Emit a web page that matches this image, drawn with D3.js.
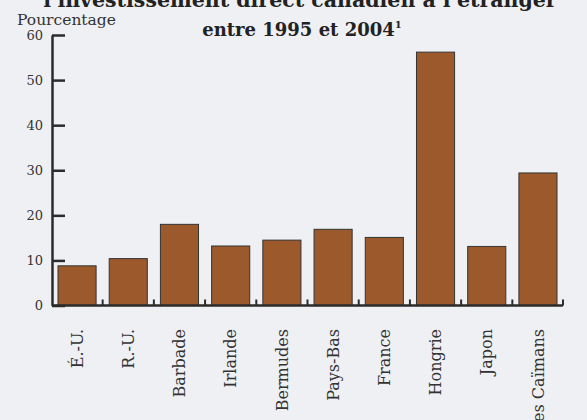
<!DOCTYPE html>
<html><head><meta charset="utf-8">
<script src="https://cdn.jsdelivr.net/npm/d3@7"></script>
<style>
html,body{margin:0;padding:0;background:#eef0f4;}
svg{display:block;}
</style></head>
<body>
<svg id="chart" width="587" height="420"></svg>
<script>
const categories = ["É.-U.", "R.-U.", "Barbade", "Irlande", "Bermudes", "Pays-Bas", "France", "Hongrie", "Japon", "Îles Caïmans"];
const values = [8.8, 10.4, 18.0, 13.2, 14.5, 16.9, 15.1, 56.2, 13.1, 29.4];
const yTicks = [0, 10, 20, 30, 40, 50, 60];
const titleLines = ["l'investissement direct canadien à l'étranger", "entre 1995 et 2004"];
const yLabel = "Pourcentage";

const svg = d3.select("#chart");
const mLeft = 52, mRight = 563, mTop = 35, mBottom = 305.5;
const ink = "#2b2b2b";
const serif = "'DejaVu Serif', serif";

const x = d3.scaleBand().domain(categories).range([mLeft, mRight]).paddingInner(0.256).paddingOuter(0.117);
const y = d3.scaleLinear().domain([0, 60]).range([mBottom, mTop]);

// title
svg.append("text").attr("x", 300).attr("y", 7).attr("text-anchor", "middle")
  .attr("font-family", serif).attr("font-weight", "bold").attr("font-size", 20.5).attr("fill", "#222")
  .text(titleLines[0]);
const t2 = svg.append("text").attr("x", 302).attr("y", 36).attr("text-anchor", "middle")
  .attr("font-family", serif).attr("font-weight", "bold").attr("font-size", 18).attr("fill", "#222");
t2.append("tspan").text(titleLines[1]);
t2.append("tspan").attr("font-size", 10).attr("dy", -8).text("1");

// y label
svg.append("text").attr("x", 17).attr("y", 25).attr("font-family", serif)
  .attr("font-size", 15.5).attr("fill", "#333").text(yLabel);

// bars
svg.append("g").selectAll("rect").data(values).join("rect")
  .attr("x", (d, i) => x(categories[i]))
  .attr("y", d => y(d))
  .attr("width", x.bandwidth())
  .attr("height", d => y(0) - y(d))
  .attr("fill", "#9c5a2c")
  .attr("stroke", "#333")
  .attr("stroke-width", 1);

// y axis
const yAxis = svg.append("g").attr("transform", `translate(${mLeft},0)`)
  .call(d3.axisLeft(y).tickValues(yTicks).tickSize(-13).tickSizeOuter(0).tickPadding(9).tickFormat(d3.format("d")));
yAxis.attr("font-family", serif).attr("font-size", 13);
yAxis.selectAll("line").attr("stroke", ink).attr("stroke-width", 2.5);
yAxis.select(".domain").attr("stroke", ink).attr("stroke-width", 2.5);
yAxis.selectAll("text").attr("fill", "#333");

// x axis baseline and boundary ticks
const xg = svg.append("g");
xg.append("line").attr("x1", mLeft).attr("x2", mRight).attr("y1", y(0)).attr("y2", y(0))
  .attr("stroke", ink).attr("stroke-width", 2.5);
const bounds = categories.slice(1).map(c => x(c) - x.step() * x.paddingInner() / 2).concat([mRight]);
xg.selectAll("line.b").data(bounds).join("line").attr("class", "b")
  .attr("x1", d => d).attr("x2", d => d).attr("y1", y(0)).attr("y2", y(0) - 6)
  .attr("stroke", ink).attr("stroke-width", 2);

// x labels
xg.selectAll("text").data(categories).join("text")
  .attr("transform", d => `translate(${x(d) + x.bandwidth() / 2},329) rotate(-90)`)
  .attr("text-anchor", "end").attr("dy", "0.35em")
  .attr("font-family", serif).attr("font-size", 16).attr("fill", "#333")
  .text(d => d);
</script>
</body></html>
